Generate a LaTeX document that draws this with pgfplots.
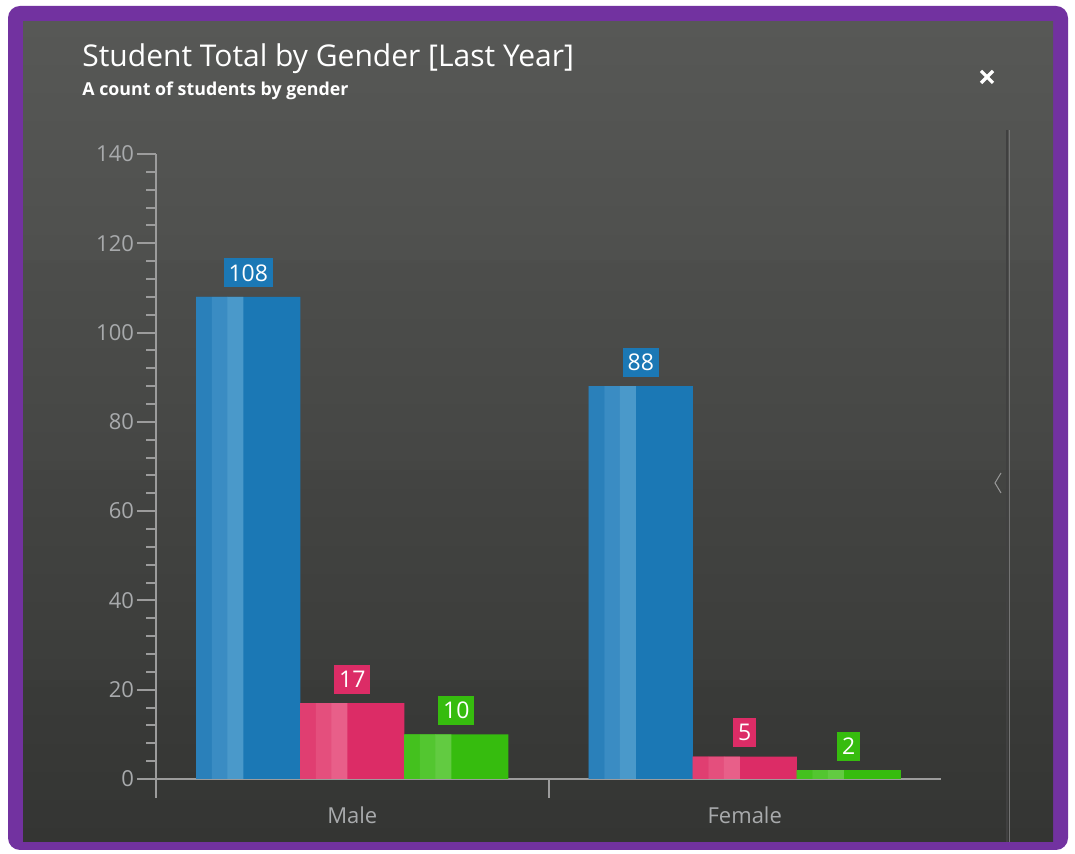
\documentclass[border=0pt]{standalone}
\usepackage{pgfplots}
\pgfplotsset{compat=1.18}
\usepackage{fontspec}
\setmainfont{Open Sans}
\definecolor{frame}{HTML}{7232A0}
\definecolor{paneltop}{HTML}{575856}
\definecolor{panelbot}{HTML}{3A3B39}
\definecolor{axgray}{HTML}{9C9C9C}
\definecolor{ticktext}{HTML}{A8AAAC}
\definecolor{cblue}{HTML}{1B78B5}
\definecolor{cblueA}{HTML}{2A80BA}
\definecolor{cblueB}{HTML}{3A8CC3}
\definecolor{cblueC}{HTML}{4A99CA}
\definecolor{cpink}{HTML}{DC2C66}
\definecolor{cpinkA}{HTML}{E03E71}
\definecolor{cpinkB}{HTML}{E44F7D}
\definecolor{cpinkC}{HTML}{E85F89}
\definecolor{cgreen}{HTML}{36BC0E}
\definecolor{cgreenA}{HTML}{44C11E}
\definecolor{cgreenB}{HTML}{53C630}
\definecolor{cgreenC}{HTML}{62CB41}
\begin{document}
\begin{tikzpicture}
\begin{scope}[x=0.5pt,y=0.5pt]
\fill[white] (0,0) rectangle (1075,854);
\fill[frame, rounded corners=6pt] (8,4) rectangle (1068,848);
\shade[top color=paneltop, bottom color=panelbot] (23,12) rectangle (1053,832);
\fill[black, opacity=0.025] (23,12) rectangle (1053,594);
\fill[black, opacity=0.025] (23,12) rectangle (1053,384);
\fill[black, opacity=0.025] (23,12) rectangle (1053,174);
\node[anchor=base west, inner sep=0pt, white, font=\fontsize{15}{17}\selectfont] at (82,787) {Student Total by Gender [Last Year]};
\node[anchor=base west, inner sep=0pt, white, font=\fontsize{8.9}{10}\selectfont\bfseries] at (82,758) {A count of students by gender};
\draw[white, line width=1.6pt] (981,771) -- (993,783) (981,783) -- (993,771);
\draw[black!75, line width=0.8pt] (1007,724) -- (1007,12);
\draw[white!45!black, line width=0.4pt] (1009.5,724) -- (1009.5,12);
\draw[gray!80, line width=0.5pt] (1001,381) -- (995,371) -- (1001,361);
\end{scope}
\begin{axis}[
  at={(78pt,37.5pt)}, anchor=south west,
  scale only axis, width=392.5pt, height=312.5pt,
  xmin=-0.5, xmax=1.5, ymin=0, ymax=140,
  axis x line*=bottom, axis y line*=left,
  axis line style={axgray, line width=1pt},
  xtick={-0.5,0.5}, xticklabels={},
  extra x ticks={0,1}, extra x tick labels={Male,Female},
  extra x tick style={major tick length=0pt, xticklabel style={yshift=-10.5pt}},
  ytick={0,20,...,140}, minor y tick num=4,
  tick align=outside,
  tick style={axgray, line width=1pt},
  major tick length=9.5pt, minor tick length=5pt,
  ticklabel style={ticktext, font=\fontsize{11}{13}\selectfont},
  yticklabel style={xshift=2pt},
  /pgf/number format/assume math mode=true,
  ybar, bar width=52pt,
  clip=false,
  nodes near coords style={text=white, font=\fontsize{11.5}{13}\selectfont, inner xsep=2.5pt, inner ysep=0pt, minimum height=14.5pt, anchor=south, yshift=4.5pt},
]
\addplot[fill=cblue, draw=none, bar shift=-52pt, nodes near coords, every node near coord/.append style={fill=cblue}] coordinates {(0,108) (1,88)};
\addplot[fill=cpink, draw=none, bar shift=0pt, nodes near coords, every node near coord/.append style={fill=cpink}] coordinates {(0,17) (1,5)};
\addplot[fill=cgreen, draw=none, bar shift=52pt, nodes near coords, every node near coord/.append style={fill=cgreen}] coordinates {(0,10) (1,2)};
% left-side highlight stripes (stepped gradient)
\addplot[fill=cblueA, draw=none, bar shift=-74.08pt, bar width=8pt, forget plot] coordinates {(0,108) (1,88)};
\addplot[fill=cblueB, draw=none, bar shift=-66.25pt, bar width=8pt, forget plot] coordinates {(0,108) (1,88)};
\addplot[fill=cblueC, draw=none, bar shift=-58.42pt, bar width=8pt, forget plot] coordinates {(0,108) (1,88)};
\addplot[fill=cpinkA, draw=none, bar shift=-22.08pt, bar width=8pt, forget plot] coordinates {(0,17) (1,5)};
\addplot[fill=cpinkB, draw=none, bar shift=-14.25pt, bar width=8pt, forget plot] coordinates {(0,17) (1,5)};
\addplot[fill=cpinkC, draw=none, bar shift=-6.42pt, bar width=8pt, forget plot] coordinates {(0,17) (1,5)};
\addplot[fill=cgreenA, draw=none, bar shift=29.92pt, bar width=8pt, forget plot] coordinates {(0,10) (1,2)};
\addplot[fill=cgreenB, draw=none, bar shift=37.75pt, bar width=8pt, forget plot] coordinates {(0,10) (1,2)};
\addplot[fill=cgreenC, draw=none, bar shift=45.58pt, bar width=8pt, forget plot] coordinates {(0,10) (1,2)};
\end{axis}
\end{tikzpicture}
\end{document}
